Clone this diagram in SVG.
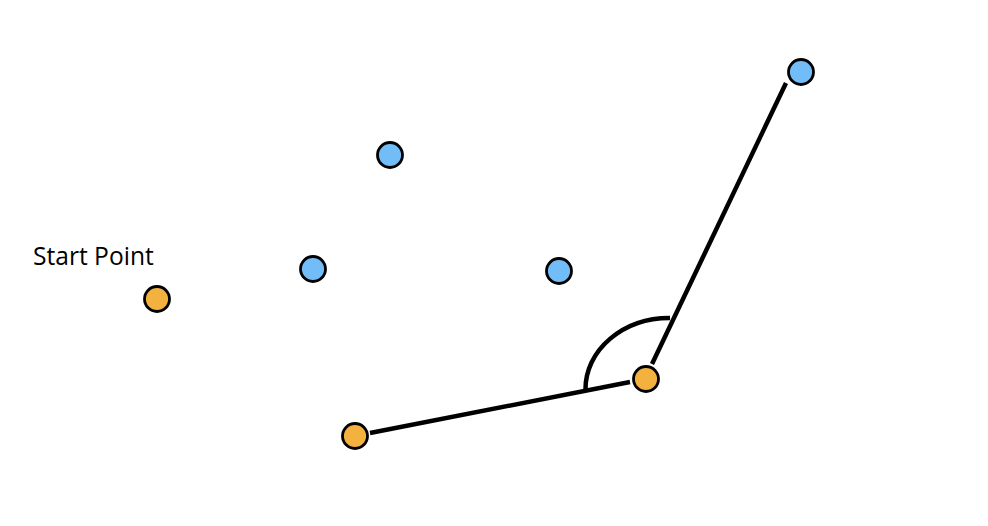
<svg xmlns="http://www.w3.org/2000/svg" width="988" height="526" viewBox="0 0 988 526">
  <style>
    .orange { fill: #f3b13f; stroke: #000; stroke-width: 2.8; }
    .blue { fill: #72bdf7; stroke: #000; stroke-width: 2.8; }
    .edge { fill: none; stroke: #000; stroke-width: 4.5; stroke-linecap: butt; }
    .label { font-family: "Open Sans", "Noto Sans", sans-serif; font-size: 24.6px; fill: #000; }
  </style>
  <rect width="988" height="526" fill="#fff"/>
  <g id="connectors">
    <line class="edge" x1="370" y1="433" x2="630" y2="382"/>
    <line class="edge" x1="652" y1="364" x2="786" y2="83"/>
    <path class="edge" d="M 585.5 389 A 84 71 0 0 1 670 318"/>
  </g>
  <g id="start-point">
    <circle class="orange" cx="157" cy="299" r="12.5"/>
    <text class="label" x="33" y="265">Start Point</text>
  </g>
  <g id="p-blue-1"><circle class="blue" cx="390" cy="155" r="12.5"/></g>
  <g id="p-blue-2"><circle class="blue" cx="313" cy="269" r="12.5"/></g>
  <g id="p-blue-3"><circle class="blue" cx="559" cy="271" r="12.5"/></g>
  <g id="p-blue-4"><circle class="blue" cx="801" cy="72" r="12.5"/></g>
  <g id="p-orange-2"><circle class="orange" cx="355" cy="436" r="12.5"/></g>
  <g id="p-orange-3"><circle class="orange" cx="646" cy="379" r="12.5"/></g>
</svg>
